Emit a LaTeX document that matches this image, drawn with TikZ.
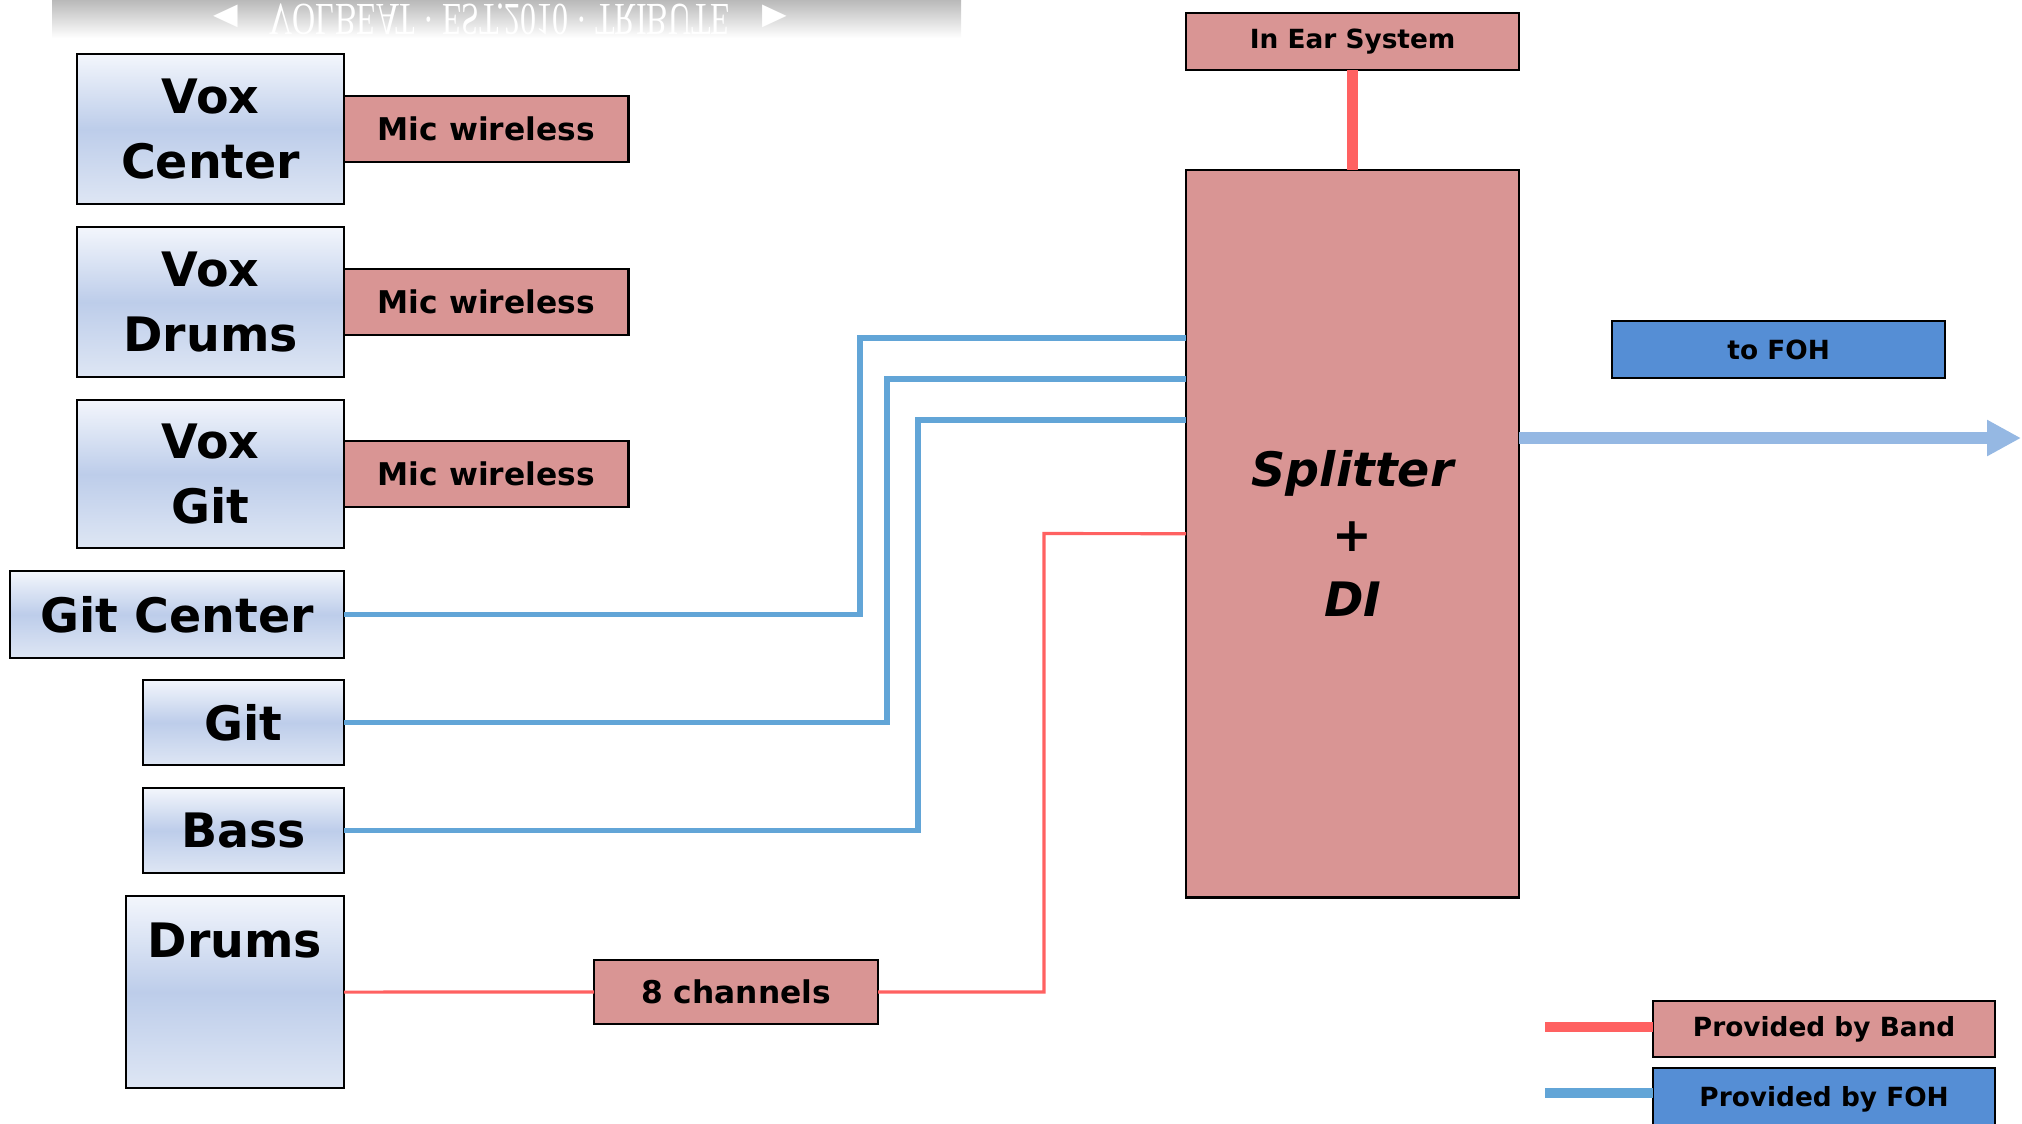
\documentclass[tikz,border=0pt]{standalone}
\usepackage{fontspec}
\setmainfont{DejaVu Sans}[BoldFont={DejaVu Sans Bold},ItalicFont={DejaVu Sans Oblique},BoldItalicFont={DejaVu Sans Bold Oblique}]
\newfontfamily\banfamily{Liberation Serif}
\usetikzlibrary{arrows.meta,positioning}
\definecolor{pinkfill}{HTML}{D99594}
\definecolor{fohfill}{HTML}{558ED5}
\definecolor{srctop}{HTML}{F3F6FC}
\definecolor{srcmid}{HTML}{BDCDEA}
\definecolor{srcbot}{HTML}{DEE6F4}
\definecolor{redline}{HTML}{FF6161}
\definecolor{blueline}{HTML}{62A5D7}
\definecolor{arrowblue}{HTML}{95B8E3}
\newcommand{\srcfont}{\fontsize{13.5}{18.5}\selectfont\bfseries}
\newcommand{\boxfont}{\fontsize{8.9}{11}\selectfont\bfseries}
\newcommand{\tagfont}{\fontsize{7.5}{9}\selectfont\bfseries}
\tikzset{
  src/.style={draw=black, line width=0.7pt, top color=srctop, bottom color=srcbot,
    middle color=srcmid, font=\srcfont, align=center, anchor=north west,
    inner sep=0pt, outer sep=0pt},
  pinkbox/.style={draw=black, line width=0.7pt, fill=pinkfill, align=center,
    anchor=north west, inner sep=0pt, outer sep=0pt},
  fohbox/.style={pinkbox, fill=fohfill},
  fohline/.style={draw=blueline, line width=1.5pt},
  bandline/.style={draw=redline, line width=0.9pt},
  iemline/.style={draw=redline, line width=3pt},
  legline/.style={line width=3pt},
  outarrow/.style={draw=arrowblue, line width=3.5pt, -{Triangle[length=0.34cm,width=0.34cm]}}
}
\begin{document}
\begin{tikzpicture}[x=0.01cm,y=-0.01cm]
  \useasboundingbox (0,0) rectangle (2022,1123);
  \begin{scope}
    \clip (52,0) rectangle (961,38);
    \shade[top color=gray!55, bottom color=white] (52,0) rectangle (961,38);
    \node[text=white, font=\banfamily\fontsize{13}{13}\selectfont, yscale=-1, xscale=0.7,
      anchor=base] (banner) at (500,4) {{\fontspec{DejaVu Sans}◄}\quad VOLBEAT · EST.2010 · TRIBUTE\quad{\fontspec{DejaVu Sans}►}};
  \end{scope}

  \node[src, minimum width=2.67cm, minimum height=1.50cm] (voxc) at (77,54) {Vox\\Center};
  \node[src, minimum width=2.67cm, minimum height=1.50cm] (voxd) at (77,227) {Vox\\Drums};
  \node[src, minimum width=2.67cm, minimum height=1.48cm] (voxg) at (77,400) {Vox\\Git};
  \node[src, minimum width=3.34cm, minimum height=0.87cm] (gitc) at (10,571) {Git Center};
  \node[src, minimum width=2.01cm, minimum height=0.85cm] (git) at (143,680) {Git};
  \node[src, minimum width=2.01cm, minimum height=0.85cm] (bass) at (143,788) {Bass};
  \node[src, minimum width=2.18cm, minimum height=1.92cm,
    label={[font=\srcfont, anchor=north, yshift=-0.14cm]north:Drums}] (drums) at (126,896) {};

  \node[pinkbox, font=\boxfont, minimum width=2.84cm, minimum height=0.66cm, right=0pt of voxc] (mic1) {Mic wireless};
  \node[pinkbox, font=\boxfont, minimum width=2.84cm, minimum height=0.66cm, right=0pt of voxd] (mic2) {Mic wireless};
  \node[pinkbox, font=\boxfont, minimum width=2.84cm, minimum height=0.66cm, right=0pt of voxg] (mic3) {Mic wireless};
  \node[pinkbox, font=\boxfont, minimum width=2.84cm, minimum height=0.64cm] (chan) at (594,960) {8 channels};

  \node[pinkbox, font=\tagfont, minimum width=3.33cm, minimum height=0.57cm] (iem) at (1186,13) {In Ear System};
  \node[pinkbox, font=\srcfont\itshape, minimum width=3.33cm, minimum height=7.27cm] (split) at (1186,170) {Splitter\\+\\DI};
  \node[fohbox, font=\tagfont, minimum width=3.33cm, minimum height=0.57cm] (tofoh) at (1612,321) {to FOH};

  \node[pinkbox, font=\tagfont, minimum width=3.42cm, minimum height=0.56cm] (band) at (1653,1001) {Provided by Band};
  \node[fohbox, font=\tagfont, minimum width=3.42cm, minimum height=0.62cm] (foh) at (1653,1068) {Provided by FOH};

  \coordinate (in1) at (1186,338);
  \coordinate (in2) at (1186,379);
  \coordinate (in3) at (1186,420);
  \coordinate (fohend) at (2021,438);
  \coordinate (lgb) at (1545,1027);
  \coordinate (lgf) at (1545,1093);

  \draw[fohline] (gitc.east) -| (860,338) -- (in1);
  \draw[fohline] (git.east) -| (887,379) -- (in2);
  \draw[fohline] (bass.east) -| (918,420) -- (in3);
  \draw[bandline] (drums.east) -- (chan.west);
  \draw[bandline] (chan.east) -| (1044,533.5) -- (split.west);
  \draw[iemline] (iem.south) -- (split.north);
  \draw[outarrow] (split.east |- fohend) -- (fohend);
  \draw[legline, redline] (lgb) -- (band.west |- lgb);
  \draw[legline, blueline] (lgf) -- (foh.west |- lgf);
\end{tikzpicture}
\end{document}
